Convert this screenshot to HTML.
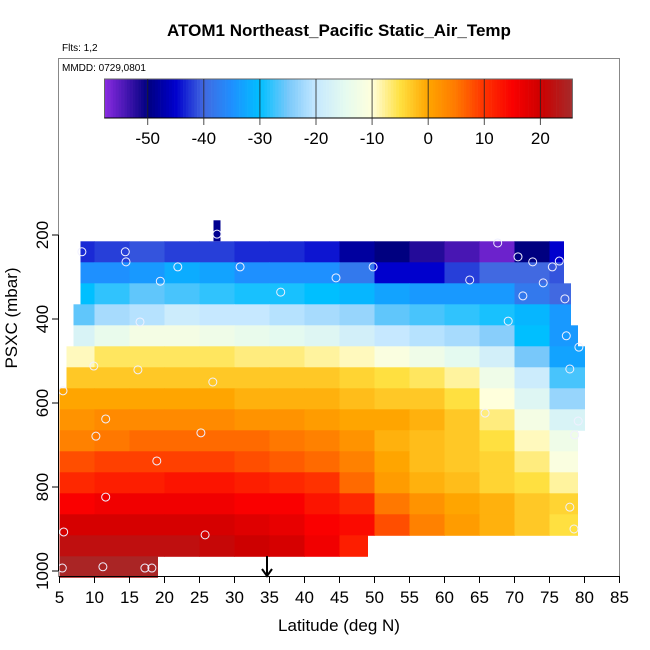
<!DOCTYPE html>
<html><head><meta charset="utf-8"><style>
body{margin:0;background:#fff}
svg{display:block;font-family:"Liberation Sans",Arial,sans-serif}
</style></head><body>
<svg id="chart" width="650" height="650" viewBox="0 0 650 650">
<text x="339" y="36" text-anchor="middle" font-size="17" font-weight="bold">ATOM1 Northeast_Pacific Static_Air_Temp</text>
<text x="62" y="51" font-size="10">Flts: 1,2</text>
<g id="heat"></g>
<g id="pts"></g>
<g id="cbar"></g>
<rect x="58.5" y="58.5" width="561" height="518" fill="none" stroke="#888" stroke-width="1"/>
<text x="62" y="71" font-size="10">MMDD: 0729,0801</text>
<g id="axes"></g>
<g>
<line x1="267" y1="556" x2="267" y2="575" stroke="#000" stroke-width="2"/>
<polyline points="262,569 267,576 272,569" fill="none" stroke="#000" stroke-width="2"/>
</g>
<text x="339" y="631" text-anchor="middle" font-size="17">Latitude (deg N)</text>
<text transform="translate(17,318) rotate(-90)" text-anchor="middle" font-size="17">PSXC (mbar)</text>
</svg>
<script>
// ---- data ----
const rowPressureTop = [215,265,315,365,415,465,515,565,615,665,715,765,815,865,915,965];
const rowLatStart = [8,8,8,7,7,6,6,5,5,5,5,5,5,5,5,5];
const rowLatEnd   = [77,77,78,78,79,80,80,80,80,79,79,79,79,79,49,19];
const binLats = [5,10,15,20,25,30,35,40,45,50,55,60,65,70,75];
const row0 = [-43,-42,-41,-42,-42,-43,-43,-44,-48,-50,-52,-54,-56,-50,-45];
const row1 = [-35,-35,-34,-32,-33,-35,-35,-35,-38,-45,-45,-42,-40,-40,-41];
const row2 = [-30,-28,-26,-27,-28,-29,-29,-30,-31,-33,-34,-34,-34,-38,-40];
const row3 = [-26,-22,-21,-19,-20,-20,-21,-22,-23,-26,-27,-28,-29,-31,-34];
const row4 = [-17,-14,-12,-12,-13,-14,-15,-16,-18,-20,-21,-22,-24,-30,-34];
const row5 = [-9,-6,-6,-6,-6,-7,-7,-8,-9,-11,-13,-15,-18,-25,-33];
const row6 = [-3,-3,-3,-3,-3,-3,-3,-3,-4,-5,-6,-8,-13,-19,-27];
const row7 = [0,0,0,0,0,-1,-1,-1,-2,-3,-3,-5,-10,-16,-23];
const row8 = [2,3,3,3,3,2,2,1,0,0,-1,-3,-7,-12,-17];
const row9 = [4,5,6,6,6,6,5,4,2,-1,-2,-3,-5,-9,-13];
const row10 = [8,9,9,9,9,8,7,6,4,0,-2,-3,-4,-7,-11];
const row11 = [11,12,12,13,13,12,11,10,6,1,-1,-2,-4,-5,-8];
const row12 = [15,16,16,16,16,15,15,13,11,5,2,0,-1,-3,-4];
const row13 = [19,19,19,19,19,18,17,15,14,8,4,1,-1,-3,-5];
const row14 = [22,22,22,22,21,20,19,16,12];
const row15 = [25,25,25];
const rows = [row0,row1,row2,row3,row4,row5,row6,row7,row8,row9,row10,row11,row12,row13,row14,row15];
const topBlockLat = [27,28];
const topBlockP = [165,215];
const topBlockTemp = -49;
const ptLat = [27.5,8.2,14.4,14.5,21.9,30.8,19.4,44.5,36.6,16.5,9.9,16.2,26.9,5.5,11.6,10.2,25.2,18.9,11.6,5.6,25.8,5.4,11.2,17.2,18.2,
  67.6,70.5,72.6,75.4,76.4,49.8,63.6,74.1,71.2,77.2,69.1,77.4,79.2,77.9,65.8,79.1,78.6,77.9,78.5];
const ptP = [198,240,240,264,276,276,310,302,336,407,512,521,550,571,638,679,671,738,824,907,914,993,990,993,993,
  219,252,264,276,262,276,307,314,345,352,405,440,467,519,624,643,676,848,900];
const cbTicks = [-50,-40,-30,-20,-10,0,10,20];
const xTicks = [5,10,15,20,25,30,35,40,45,50,55,60,65,70,75,80,85];
const yTicks = [200,400,600,800,1000];
// ---- scales ----
const X = lat => 59.5 + (lat - 5) * 7;
const Y = p => 235 + (p - 200) * 0.42;
const CB = t => 104.5 + (t + 57.7) * 5.61;
const stops = [[-57.7,[138,43,226]],[-50,[0,0,128]],[-45,[0,0,205]],[-40,[65,105,225]],[-35,[30,144,255]],[-30,[0,191,255]],[-25,[120,200,250]],[-20,[198,232,255]],[-15,[228,250,240]],[-10,[255,255,220]],[-5,[255,224,64]],[0,[255,165,0]],[5,[255,120,0]],[10,[255,50,0]],[15,[250,0,0]],[20,[205,0,0]],[25.7,[165,42,42]]];
function col(t){
  if(t<=stops[0][0]) t=stops[0][0];
  for(let i=1;i<stops.length;i++){
    if(t<=stops[i][0]){
      const a=stops[i-1],b=stops[i],f=(t-a[0])/(b[0]-a[0]);
      const c=a[1].map((v,k)=>Math.round(v+(b[1][k]-v)*f));
      return 'rgb('+c.join(',')+')';
    }
  }
  const c=stops[stops.length-1][1];return 'rgb('+c.join(',')+')';
}
const NS='http://www.w3.org/2000/svg';
function mk(tag,attrs,parent){const e=document.createElementNS(NS,tag);for(const k in attrs)e.setAttribute(k,attrs[k]);parent.appendChild(e);return e;}
// heatmap
const heat=document.getElementById('heat');
rows.forEach((vals,r)=>{
  vals.forEach((v,i)=>{
    const l0=Math.max(binLats[i],rowLatStart[r]);
    const l1=Math.min(binLats[i]+5,rowLatEnd[r]);
    if(l1<=l0) return;
    const el=mk('rect',{x:X(l0),y:Y(rowPressureTop[r]),width:X(l1)-X(l0)+0.5,height:Y(rowPressureTop[r]+50)-Y(rowPressureTop[r])+0.5,fill:col(v)},heat);
    
    
  });
});
const tb=mk('rect',{x:X(topBlockLat[0]),y:Y(topBlockP[0]),width:X(topBlockLat[1])-X(topBlockLat[0]),height:Y(topBlockP[1])-Y(topBlockP[0]),fill:col(topBlockTemp)},heat);


// points
const pts=document.getElementById('pts');
ptLat.forEach((la,i)=>{
  const c=mk('circle',{cx:X(la),cy:Y(ptP[i]),r:4,fill:'none',stroke:'#f0f0ff','stroke-width':1},pts);
  
  
});
// colorbar
const cb=document.getElementById('cbar');
for(let t=-57.7;t<25.7;t+=0.5){
  mk('rect',{x:CB(t),y:79,width:CB(Math.min(t+0.5,25.7))-CB(t)+0.3,height:39,fill:col(t+0.25)},cb);
}
mk('rect',{x:CB(-57.7),y:79,width:CB(25.7)-CB(-57.7),height:39,fill:'none',stroke:'#666','stroke-width':1},cb);
mk('line',{x1:CB(-57.7),y1:118,x2:CB(25.7),y2:118,stroke:'#000','stroke-width':1},cb);
cbTicks.forEach(t=>{
  const l=mk('line',{x1:CB(t),y1:79,x2:CB(t),y2:125,stroke:'#222','stroke-opacity':0.8,'stroke-width':1},cb);
  
  
  const tx=mk('text',{x:CB(t),y:144,'text-anchor':'middle','font-size':17},cb);
  tx.textContent=t;
  
  
});
// axes
const ax=document.getElementById('axes');
mk('line',{x1:X(5),y1:576.5,x2:X(85),y2:576.5,stroke:'#000','stroke-width':1},ax);
xTicks.forEach(v=>{
  mk('line',{x1:X(v),y1:576,x2:X(v),y2:583,stroke:'#000'},ax);
  const t=mk('text',{x:X(v),y:603,'text-anchor':'middle','font-size':17},ax);
  t.textContent=v;
  
  
});
mk('line',{x1:58.5,y1:Y(200),x2:58.5,y2:Y(1000),stroke:'#000','stroke-width':1},ax);
yTicks.forEach(v=>{
  mk('line',{x1:52,y1:Y(v),x2:58.5,y2:Y(v),stroke:'#000'},ax);
  const t=mk('text',{transform:'translate(48,'+Y(v)+') rotate(-90)','text-anchor':'middle','font-size':17},ax);
  t.textContent=v;
  
  
});
</script>
</body></html>
